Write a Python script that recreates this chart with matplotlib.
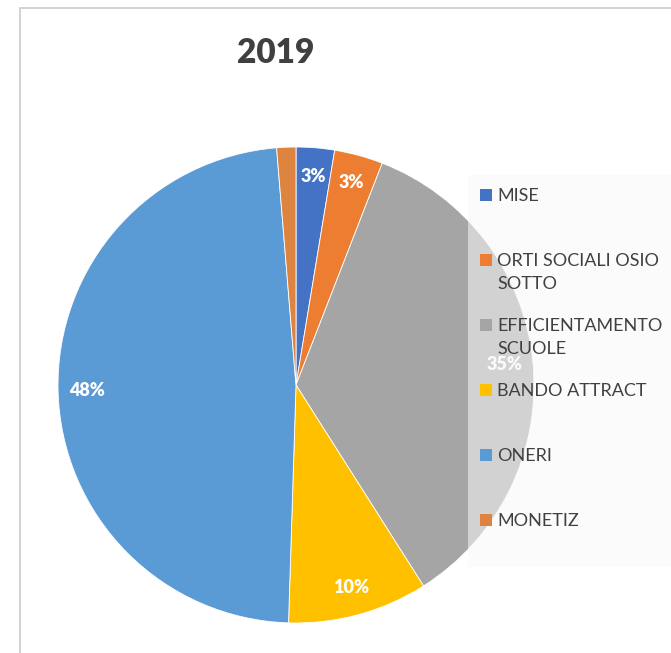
import matplotlib
matplotlib.use("Agg")
import matplotlib.pyplot as plt
from matplotlib.patches import Rectangle
import numpy as np

categories = ["MISE", "ORTI SOCIALI OSIO\nSOTTO", "EFFICIENTAMENTO\nSCUOLE",
              "BANDO ATTRACT", "ONERI", "MONETIZ"]
shares = [2.6, 3.3, 35.1, 9.5, 48.2, 1.3]
pct_labels = ["3%", "3%", "35%", "10%", "48%", ""]
colors = ["#4472C4", "#ED7D31", "#A5A5A5", "#FFC000", "#5B9BD5", "#DC8440"]

W, H = 671, 653
plt.rcParams["font.family"] = ["Lato", "DejaVu Sans"]
fig = plt.figure(figsize=(W / 100, H / 100), dpi=100)

# chart frame
fig.add_artist(Rectangle((20 / W, -0.1), 1.2, (H - 8) / H + 0.1, transform=fig.transFigure,
                         fill=False, ec="#D0D0D0", lw=1.3))

cx, cy, r = 296, 385, 238
ax = fig.add_axes([(cx - r) / W, (H - cy - r) / H, 2 * r / W, 2 * r / H])
wedges, _ = ax.pie(shares, colors=colors, startangle=90, counterclock=False, radius=1,
                   wedgeprops=dict(edgecolor="white", linewidth=0.6))
ax.set_xlim(-1, 1); ax.set_ylim(-1, 1); ax.set_aspect("equal")

# percentage labels
cum = np.cumsum([0] + shares)
tot = cum[-1]
for i, lab in enumerate(pct_labels):
    if not lab:
        continue
    mid = 90 - 360 * (cum[i] + cum[i + 1]) / 2 / tot
    d = 0.88
    ax.text(d * np.cos(np.radians(mid)), d * np.sin(np.radians(mid)), lab, ha="center",
            va="center", color="white", fontsize=13, fontweight="heavy", zorder=10)

fig.text(276 / W, 1 - 53 / H, "2019", ha="center", va="center", fontsize=24,
         fontweight="heavy", color="#404040")

# legend box, semi-transparent over the pie
lx0, ly0, lx1, ly1 = 468, 175, 690, 567
fig.add_artist(Rectangle((lx0 / W, 1 - ly1 / H), (lx1 - lx0) / W, (ly1 - ly0) / H,
                         transform=fig.transFigure, fc="#F8F8F8", ec="none", alpha=0.55, zorder=5))
for i, (cat, col) in enumerate(zip(categories, colors)):
    y = 195 + 65 * i
    fig.add_artist(Rectangle((480 / W, 1 - (y + 6) / H), 12 / W, 12 / H,
                             transform=fig.transFigure, fc=col, ec="none", zorder=6))
    fig.text(497 / W, 1 - (y - 7) / H, cat, ha="left", va="top", fontsize=13,
             color="#404040", linespacing=1.5, zorder=6)

fig.savefig("out.png", dpi=100)
